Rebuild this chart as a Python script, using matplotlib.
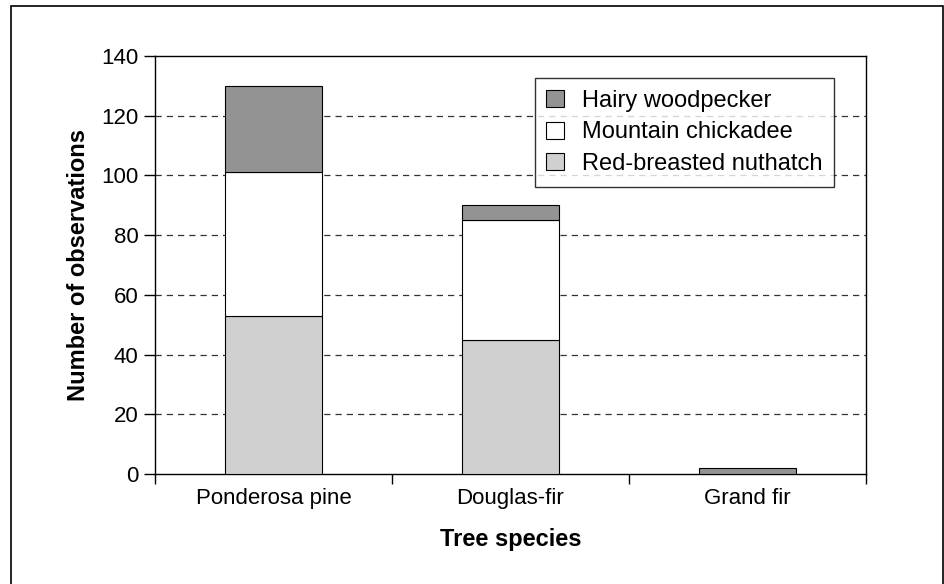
import numpy as np
import matplotlib.pyplot as plt
from matplotlib.patches import Rectangle

# Observations of foraging birds by tree species
trees = ['Ponderosa pine', 'Douglas-fir', 'Grand fir']
nuthatch = [53, 45, 0]      # Red-breasted nuthatch
chickadee = [48, 40, 0]     # Mountain chickadee
woodpecker = [29, 5, 2]     # Hairy woodpecker

plt.rcParams['font.family'] = ['Liberation Sans', 'DejaVu Sans']

fig = plt.figure(figsize=(9.44, 5.84), dpi=100)
ax = fig.add_axes([155/944, (584-474)/584, (866-155)/944, (474-56)/584])

x = np.arange(len(trees))
w = 0.41
nut = np.array(nuthatch)
chk = np.array(chickadee)
hwp = np.array(woodpecker)

b1 = ax.bar(x, nut, w, color='#d0d0d0', edgecolor='black', linewidth=0.8,
            label='Red-breasted nuthatch', zorder=3)
b2 = ax.bar(x, chk, w, bottom=nut, color='white', edgecolor='black', linewidth=0.8,
            label='Mountain chickadee', zorder=3)
b3 = ax.bar(x, hwp, w, bottom=nut + chk, color='#939393', edgecolor='black', linewidth=0.8,
            label='Hairy woodpecker', zorder=3)

ax.set_xlim(-0.5, 2.5)
ax.set_ylim(0, 140)
ax.set_yticks(np.arange(0, 141, 20))
ax.set_xticks(x)
ax.set_xticklabels(trees)
ax.set_xticks([-0.5, 0.5, 1.5, 2.5], minor=True)
ax.tick_params(axis='x', which='major', length=0, pad=10, labelsize=16)
ax.tick_params(axis='x', which='minor', length=7, width=1, direction='out')
ax.tick_params(axis='y', length=8, width=1, direction='out', pad=4, labelsize=16)

# dashed horizontal gridlines
for yv in range(20, 140, 20):
    ax.axhline(yv, color='#333333', linewidth=0.9, dashes=(5, 4), zorder=1)

for s in ax.spines.values():
    s.set_linewidth(1)
    s.set_color('black')

ax.set_xlabel('Tree species', fontsize=17, fontweight='bold', labelpad=14)
ax.set_ylabel('Number of observations', fontsize=17, fontweight='bold', labelpad=8)

leg = ax.legend(handles=[b3, b2, b1], loc='upper left', bbox_to_anchor=(0.534, 0.947),
                borderaxespad=0, fontsize=17, frameon=True, fancybox=False,
                handlelength=0.75, handleheight=0.75, handletextpad=0.75,
                labelspacing=0.4, borderpad=0.5)
leg.get_frame().set_edgecolor('black')
leg.get_frame().set_linewidth(1)

# frame around the whole chart
fig.patches.append(Rectangle((11/944, -0.02), (943-11)/944, (579+11)/584,
                             transform=fig.transFigure, fill=False,
                             edgecolor='black', linewidth=1.2))

fig.savefig('out.png', dpi=100)
